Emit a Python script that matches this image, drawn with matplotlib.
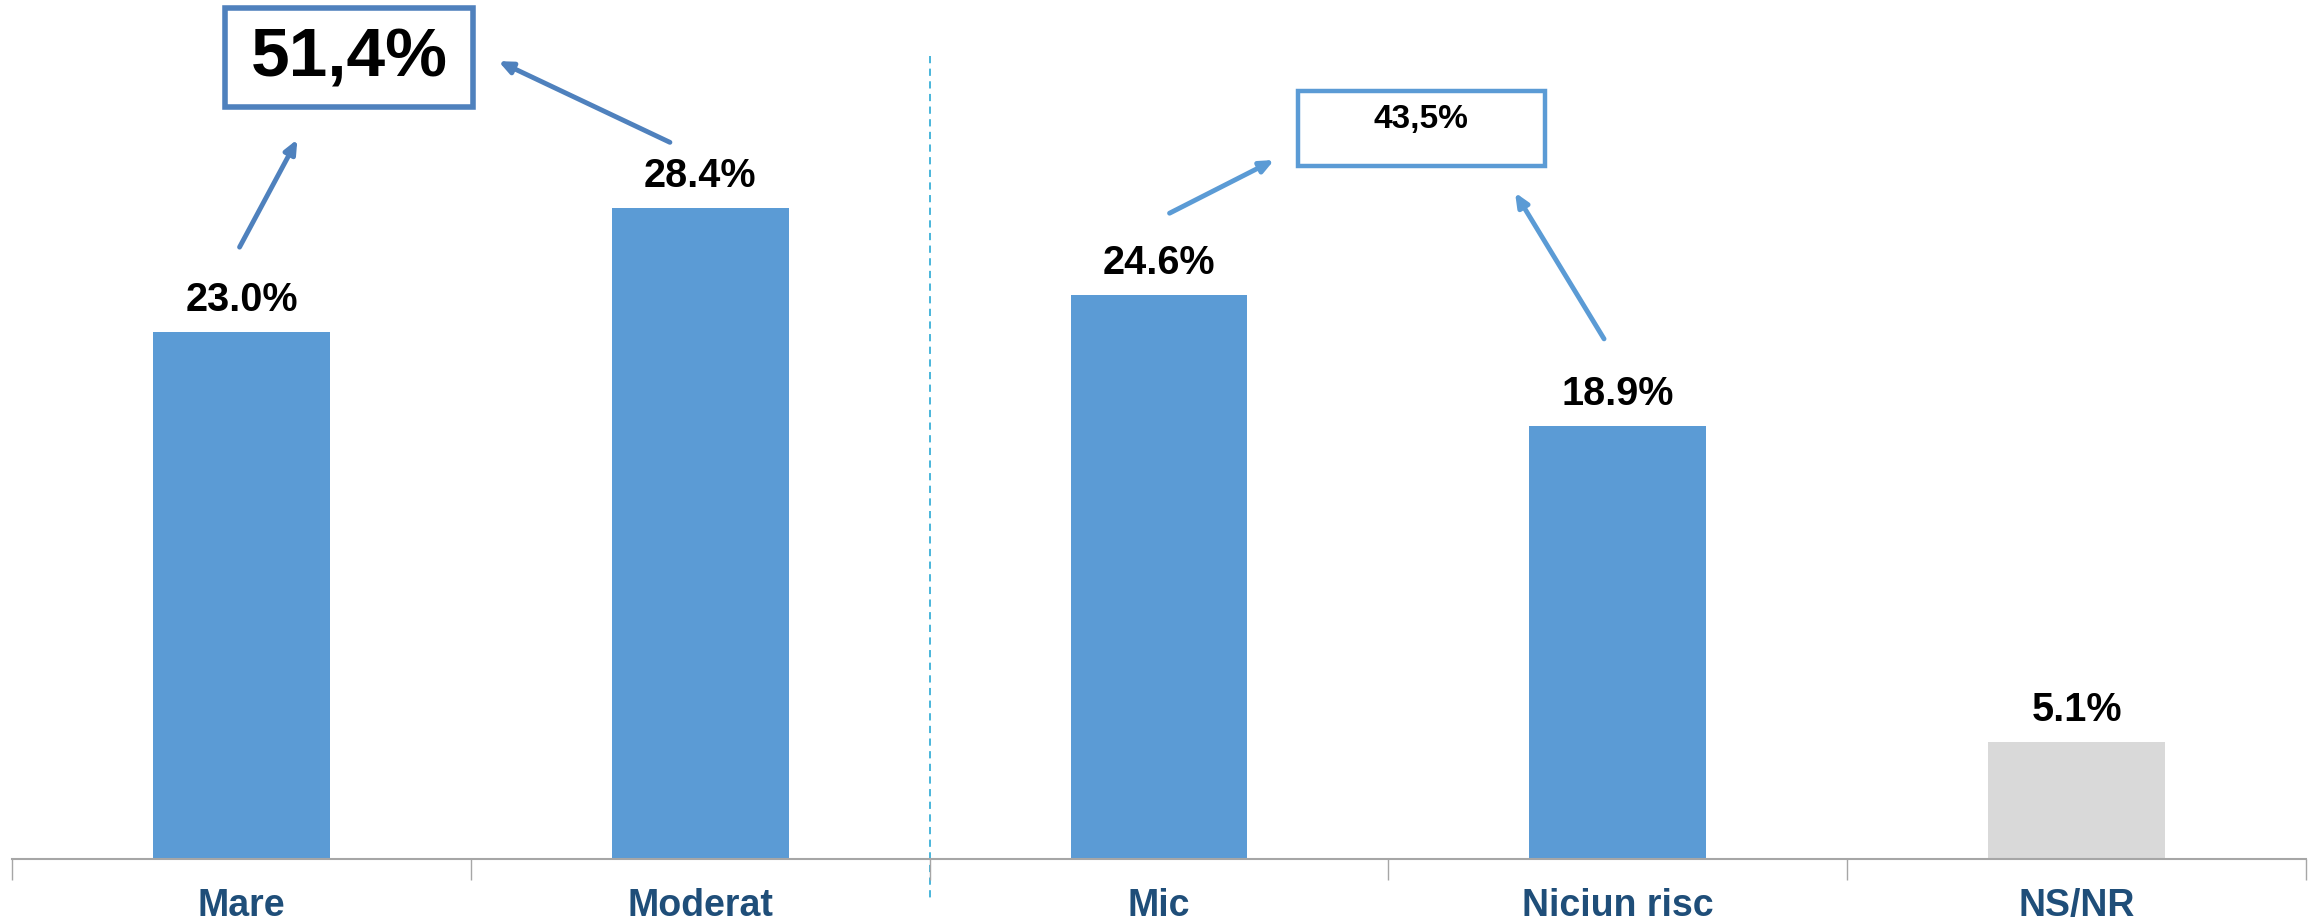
import matplotlib
matplotlib.use("Agg")
import matplotlib.pyplot as plt
from matplotlib import font_manager
from matplotlib.patches import Rectangle

categories = ["Mare", "Moderat", "Mic", "Niciun risc", "NS/NR"]
values = [23.0, 28.4, 24.6, 18.9, 5.1]
bar_colors = ["#5B9BD5", "#5B9BD5", "#5B9BD5", "#5B9BD5", "#D9D9D9"]

avail = {f.name for f in font_manager.fontManager.ttflist}
fam = "Liberation Sans Narrow" if "Liberation Sans Narrow" in avail else "Liberation Sans"
plt.rcParams["font.family"] = [fam, "DejaVu Sans"]

W, H = 2318, 920
fig = plt.figure(figsize=(W / 100, H / 100), dpi=100)
ax = fig.add_axes([12 / W, 1 - 860 / H, (2306 - 12) / W, 860 / H])

x = list(range(len(categories)))
ax.bar(x, values, width=0.385, color=bar_colors, zorder=2)
ax.set_xlim(-0.5, len(categories) - 0.5)
ax.set_ylim(0, 37.5)

for s in ["top", "right", "left"]:
    ax.spines[s].set_visible(False)
ax.spines["bottom"].set_color("#A6A6A6")
ax.spines["bottom"].set_linewidth(1.5)
ax.set_yticks([])
ax.set_xticks(x)
ax.set_xticklabels(categories, fontsize=27, fontweight="bold", color="#1F4E79")
ax.tick_params(axis="x", which="major", length=0, pad=20)
ax.set_xticks([i - 0.5 for i in range(len(categories) + 1)], minor=True)
ax.tick_params(axis="x", which="minor", length=15, width=1, color="#A6A6A6", direction="out")

for xi, v in zip(x, values):
    ax.annotate(f"{v:.1f}%", (xi, v), xytext=(0, 10), textcoords="offset points",
                ha="center", va="bottom", fontsize=28.5, fontweight="bold", color="black")

# divider line
ax.plot([1.5, 1.5], [35.0, -1.8], ls=(0, (4, 3)), color="#3BB0D8", lw=1.3, clip_on=False, zorder=1)

# group totals
total1 = values[0] + values[1]
total2 = values[2] + values[3]

c1 = "#4F81BD"
c2 = "#5B9BD5"

ax.add_patch(Rectangle((-0.036, 32.8), 0.541, 4.3, fill=False, ec=c1, lw=4, clip_on=False, zorder=3))
ax.text(0.235, 34.95, f"{total1:.1f}%".replace(".", ","), ha="center", va="center",
        fontsize=50, fontweight="bold", color="black")

ax.add_patch(Rectangle((2.303, 30.2), 0.538, 3.3, fill=False, ec=c2, lw=3.2, clip_on=False, zorder=3))
ax.text(2.572, 32.3, f"{total2:.1f}%".replace(".", ","), ha="center", va="center",
        fontsize=24, fontweight="bold", color="black")

def arrow(x0, y0, x1, y1, col):
    ax.annotate("", xy=(x1, y1), xytext=(x0, y0),
                arrowprops=dict(arrowstyle="-|>,head_length=0.8,head_width=0.35", color=col,
                                lw=3.5, shrinkA=0, shrinkB=0), zorder=3)

arrow(-0.004, 26.68, 0.122, 31.38, c1)
arrow(0.934, 31.25, 0.560, 34.79, c1)
arrow(2.023, 28.16, 2.251, 30.48, c2)
arrow(2.970, 22.68, 2.776, 29.06, c2)

fig.savefig("out.png", dpi=100, facecolor="white")
